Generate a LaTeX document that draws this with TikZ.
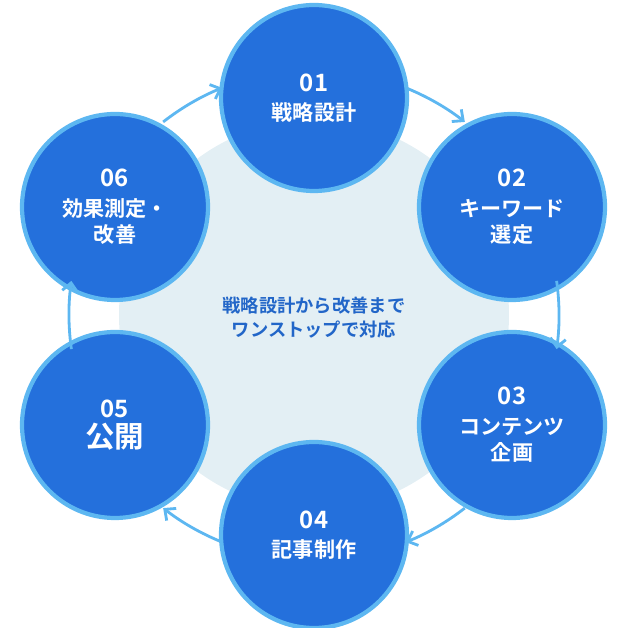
\documentclass[tikz,border=0pt]{standalone}
\usepackage{fontspec}
\setmainfont{Noto Sans CJK JP}[BoldFont={* Bold}]
\usetikzlibrary{positioning, math, arrows.meta}
\definecolor{stepblue}{HTML}{2470DC}
\definecolor{ringblue}{HTML}{5DB7F1}
\definecolor{paleblue}{HTML}{E3EFF4}
\definecolor{titleblue}{HTML}{2266C8}
\tikzset{
stage/.style={draw=ringblue, line width=3pt, fill=stepblue, circle, minimum size=186*0.025cm,
  text=white, align=center, font=\bfseries\fontsize{15}{19}\selectfont},
flow/.style={draw=ringblue, line width=2pt, -{Straight Barb[length=6pt,width=11pt]}},
}

\begin{document}
\begin{tikzpicture}[x=0.025cm, y=-0.025cm]
    \useasboundingbox (0,0) rectangle (640,628);
    \tikzmath{ \r=245; };  % radius of the arrow ring

    %background disc
    \node[circle, fill=paleblue, minimum size=390*0.025cm] (bg) at (314,315) {};
    \node[text=titleblue, align=center, font=\bfseries\fontsize{13}{17}\selectfont] (msg) at (314,318)
        {戦略設計から改善まで\\ワンストップで対応};

    %stages
    \node[stage] (s1) at (314,98)  {{\fontsize{17}{20}\selectfont 01}\\[2pt]戦略設計};
    \node[stage] (s2) at (512,207) {{\fontsize{17}{20}\selectfont 02}\\[2pt]キーワード\\選定};
    \node[stage] (s3) at (512,425) {{\fontsize{17}{20}\selectfont 03}\\[2pt]コンテンツ\\企画};
    \node[stage] (s4) at (314,535) {{\fontsize{17}{20}\selectfont 04}\\[2pt]記事制作};
    \node[stage] (s5) at (115,425) {{\fontsize{17}{20}\selectfont 05}\\[2pt]{\fontsize{21}{24}\selectfont 公開}};
    \node[stage] (s6) at (115,207) {{\fontsize{17}{20}\selectfont 06}\\[2pt]効果測定・\\改善};

    %arrows between stages
    \foreach \m in {60,0,-60,-120,-180,-240} {
        \draw[flow] (bg.center) ++({-(\m+8)}:\r) arc[start angle={-(\m+8)}, end angle={-(\m-8)}, radius=\r];
    }
\end{tikzpicture}
\end{document}
